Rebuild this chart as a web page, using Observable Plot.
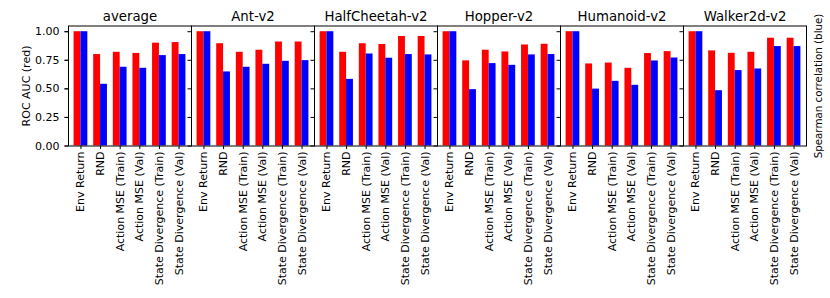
<!DOCTYPE html>
<html><head><meta charset="utf-8">
<script src="https://cdn.jsdelivr.net/npm/d3@7"></script>
<script src="https://cdn.jsdelivr.net/npm/@observablehq/plot@0.6"></script>
<style>body{margin:0;background:#fff} svg{font-family:"DejaVu Sans",sans-serif}</style>
</head><body><div id="chart"></div>
<script>
const envs = ["average", "Ant-v2", "HalfCheetah-v2", "Hopper-v2", "Humanoid-v2", "Walker2d-v2"];
const metrics = ["Env Return", "RND", "Action MSE (Train)", "Action MSE (Val)", "State Divergence (Train)", "State Divergence (Val)"];
// ROC AUC (red), one row per environment
const rocAuc = [
  [1.00, 0.80, 0.82, 0.81, 0.90, 0.905],
  [1.00, 0.895, 0.82, 0.838, 0.91, 0.91],
  [1.00, 0.82, 0.895, 0.888, 0.958, 0.958],
  [1.00, 0.745, 0.838, 0.823, 0.884, 0.89],
  [1.00, 0.718, 0.726, 0.68, 0.809, 0.826],
  [1.00, 0.832, 0.811, 0.82, 0.943, 0.943]
];
// Spearman correlation (blue), one row per environment
const spearman = [
  [1.00, 0.54, 0.689, 0.68, 0.791, 0.80],
  [1.00, 0.648, 0.689, 0.715, 0.741, 0.747],
  [1.00, 0.583, 0.805, 0.768, 0.80, 0.797],
  [1.00, 0.493, 0.721, 0.706, 0.797, 0.80],
  [1.00, 0.498, 0.566, 0.531, 0.744, 0.77],
  [1.00, 0.484, 0.66, 0.674, 0.87, 0.87]
];
const yTicks = [0, 0.25, 0.5, 0.75, 1.0];
const seriesColors = ["#ff0000", "#0000ff"];

const rows = [];
envs.forEach((env, e) => metrics.forEach((m, i) => {
  rows.push({env, i, s: 0, value: rocAuc[e][i]});
  rows.push({env, i, s: 1, value: spearman[e][i]});
}));
const W = 0.35;

const chart = Plot.plot({
  width: 830, height: 298,
  marginLeft: 67, marginRight: 23, marginTop: 25.5, marginBottom: 152.5,
  style: {fontFamily: "DejaVu Sans, sans-serif", fontSize: "11px", background: "white", color: "black", overflow: "visible"},
  fx: {domain: envs, padding: 0, label: null, axis: null},
  x: {domain: [-0.635, 5.635]},
  y: {domain: [0, 1.05]},
  marks: [
    Plot.rectY(rows, {
      fx: "env",
      x1: d => d.s === 0 ? d.i - W : d.i,
      x2: d => d.s === 0 ? d.i : d.i + W,
      y1: 0, y2: "value",
      fill: d => seriesColors[d.s]
    }),
    Plot.frame({stroke: "black", strokeWidth: 1}),
    Plot.axisY({ticks: yTicks, tickFormat: d3.format(".2f"), tickSize: 3.5, label: "ROC AUC (red)", labelAnchor: "center", labelOffset: 46, labelArrow: "none", fontSize: 11}),
    Plot.axisY({ticks: yTicks, facetAnchor: null, tickFormat: () => "", tickSize: 3.5, label: null}),
    Plot.axisY({anchor: "right", ticks: [], label: "Spearman correlation (blue)", labelAnchor: "center", labelOffset: 15, labelArrow: "none", fontSize: 10.3}),
    Plot.axisX({ticks: [0, 1, 2, 3, 4, 5], tickFormat: i => metrics[i], tickRotate: -90, tickSize: 3.5, tickPadding: 2, label: null, fontSize: 11}),
    Plot.text(envs, {fx: d => d, text: d => d, frameAnchor: "top", lineAnchor: "bottom", dy: -5, fontSize: 13.3, fill: "black"})
  ]
});
document.getElementById("chart").appendChild(chart);
</script>
</body></html>
